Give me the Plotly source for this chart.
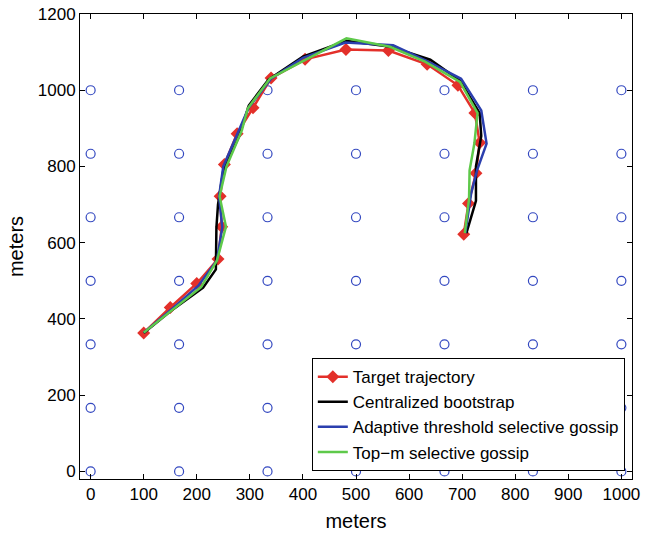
import numpy as np
import plotly.graph_objects as go

# sensor grid
sensor_coords = [0, 166.7, 333.3, 500, 666.7, 833.3, 1000]

# trajectories (meters)
target_x = [100, 150, 200, 240, 247, 244, 252, 276, 306, 340, 404, 481, 561, 634, 692, 724, 733, 726, 712, 703]
target_y = [363, 430, 493, 557, 642, 722, 805, 886, 954, 1032, 1081, 1107, 1104, 1068, 1013, 940, 862, 782, 703, 622]

central_x = [100, 155, 212, 236, 237, 240, 250, 280, 298, 335, 400, 482, 565, 640, 696, 733, 736, 726, 726, 708]
central_y = [363, 425, 482, 530, 640, 700, 790, 880, 960, 1028, 1088, 1130, 1114, 1080, 1025, 940, 880, 800, 710, 625]

adaptive_x = [100, 155, 203, 238, 248, 242, 250, 275, 298, 340, 400, 480, 570, 632, 698, 736, 746, 728, 717, 706]
adaptive_y = [364, 428, 487, 553, 640, 722, 800, 882, 955, 1030, 1085, 1125, 1118, 1078, 1030, 947, 860, 790, 730, 625]

topm_x = [100, 150, 208, 238, 255, 243, 256, 285, 296, 338, 404, 482, 564, 630, 696, 729, 723, 714, 713, 705]
topm_y = [364, 420, 483, 553, 642, 722, 800, 895, 952, 1031, 1079, 1136, 1114, 1075, 1022, 940, 860, 790, 715, 625]

FONT = "Liberation Sans, Arial, Helvetica, sans-serif"

sx, sy = np.meshgrid(sensor_coords, sensor_coords)

fig = go.Figure()
fig.add_trace(go.Scatter(
    x=sx.ravel(), y=sy.ravel(), mode="markers", showlegend=False,
    marker=dict(symbol="circle-open", size=9, color="#3348c0", line=dict(width=1.2)),
    hoverinfo="skip"))
fig.add_trace(go.Scatter(
    x=target_x, y=target_y, mode="lines+markers", name="Target trajectory",
    line=dict(color="#e3302a", width=2.5),
    marker=dict(symbol="diamond", size=10, color="#e3302a")))
fig.add_trace(go.Scatter(
    x=central_x, y=central_y, mode="lines", name="Centralized bootstrap",
    line=dict(color="#000000", width=2.5)))
fig.add_trace(go.Scatter(
    x=adaptive_x, y=adaptive_y, mode="lines", name="Adaptive threshold selective gossip",
    line=dict(color="#2b3fae", width=2.5)))
fig.add_trace(go.Scatter(
    x=topm_x, y=topm_y, mode="lines", name="Top\u2212m selective gossip",
    line=dict(color="#5ec94a", width=2.5)))

axis_common = dict(
    showgrid=False, zeroline=False, showline=True, linecolor="black", linewidth=1,
    mirror="ticks", ticks="inside", ticklen=5, tickcolor="black", automargin=False,
    tickfont=dict(family=FONT, size=17, color="black"),
)
fig.update_xaxes(range=[-20, 1020], tickvals=list(range(0, 1001, 100)),
                 title=dict(text="meters", font=dict(family=FONT, size=20, color="black"), standoff=10),
                 **axis_common)
fig.update_yaxes(range=[-20, 1200], tickvals=list(range(0, 1201, 200)),
                 title=dict(text="meters", font=dict(family=FONT, size=20, color="black"), standoff=8),
                 **axis_common)

fig.update_layout(
    width=645, height=535,
    margin=dict(l=80, r=13, t=14, b=56),
    paper_bgcolor="white", plot_bgcolor="white",
    font=dict(family=FONT, color="black"),
    legend=dict(x=0.987, y=0.017, xanchor="right", yanchor="bottom",
                bgcolor="white", bordercolor="black", borderwidth=1,
                font=dict(family=FONT, size=17, color="black"),
                tracegroupgap=0, itemwidth=30),
)

fig.write_html("out.html")
